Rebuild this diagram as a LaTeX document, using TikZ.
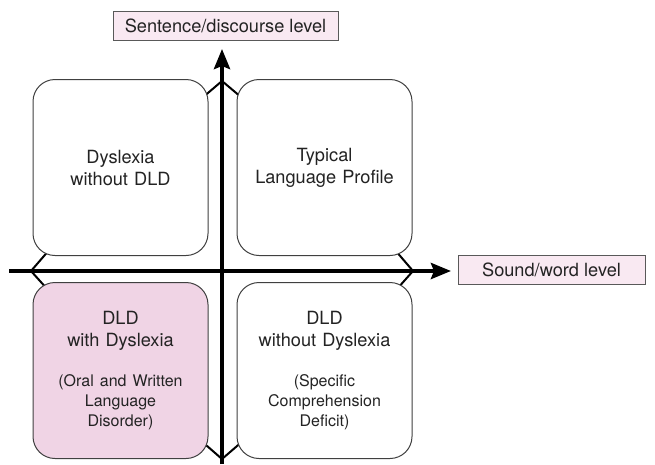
\documentclass[tikz,border=0pt]{standalone}
\usepackage{fontspec}
\setmainfont{TeX Gyre Heros}
\usetikzlibrary{arrows.meta,backgrounds}
\definecolor{labelpink}{RGB}{249,233,242}
\definecolor{boxpink}{RGB}{240,212,229}
\definecolor{inkgray}{RGB}{35,35,35}
\newcommand{\mainsize}{\fontsize{18.2}{22}\selectfont}
\newcommand{\subsize}{\fontsize{16}{20}\selectfont}
\tikzset{
  quad/.style={draw=black!75, line width=1pt, fill=white, rounded corners=22pt,
    minimum width=175pt, minimum height=176pt, inner sep=0pt,
    text width=175pt, align=center, text=inkgray, font=\mainsize},
  levelbox/.style={draw=black!65, line width=1pt, fill=labelpink, inner sep=0pt,
    minimum height=29pt, text=inkgray, font=\mainsize},
  axis/.style={line width=4pt, -{Stealth[length=20pt,width=16pt,inset=3pt]}},
  prong/.style={line width=2pt},
}
\begin{document}
\begin{tikzpicture}[x=1pt, y=-1pt]
    \useasboundingbox (0,0) rectangle (655,464);

    % coordinates to be reused
    \coordinate (vtop) at (222,81);
    \coordinate (vbot) at (222,459);
    \coordinate (vleft) at (31,271);
    \coordinate (vright) at (413,271);

    % draw figure
    \node [quad] (tl) at (120.5,167.5) {Dyslexia\\ without DLD};
    \node [quad] (tr) at (324.5,167.5) {Typical\\ Language Profile};
    \node [quad, fill=boxpink] (bl) at (120.5,370.5)
      {{\mainsize DLD\\ with Dyslexia\par}\vspace{20pt}%
       {\subsize (Oral and Written\\ Language\\ Disorder)\par}};
    \node [quad] (br) at (324.5,370.5)
      {{\mainsize DLD\\ without Dyslexia\par}\vspace{20pt}%
       {\subsize (Specific\\ Comprehension\\ Deficit)\par}};

    \begin{pgfonlayer}{background}% prongs run under the boxes
      \draw [prong] (tl.center) -- (vtop) -- (tr.center);
      \draw [prong] (bl.center) -- (vbot) -- (br.center);
      \draw [prong] (tl.center) -- (vleft) -- (bl.center);
      \draw [prong] (tr.center) -- (vright) -- (br.center);
    \end{pgfonlayer}

    \coordinate (ybase) at (222,464);
    \coordinate (ytip) at (222,49);
    \coordinate (xbase) at (9,271);
    \coordinate (xtip) at (451,271);
    \draw [axis] (ybase) -- (ytip);
    \draw [axis] (xbase) -- (xtip);

    % add labels
    \node [levelbox, minimum width=225pt] (sentence) at (225.5,25.5) {Sentence/discourse level};
    \node [levelbox, minimum width=187pt] (sound) at (551.5,270) {Sound/word level};
\end{tikzpicture}
\end{document}
